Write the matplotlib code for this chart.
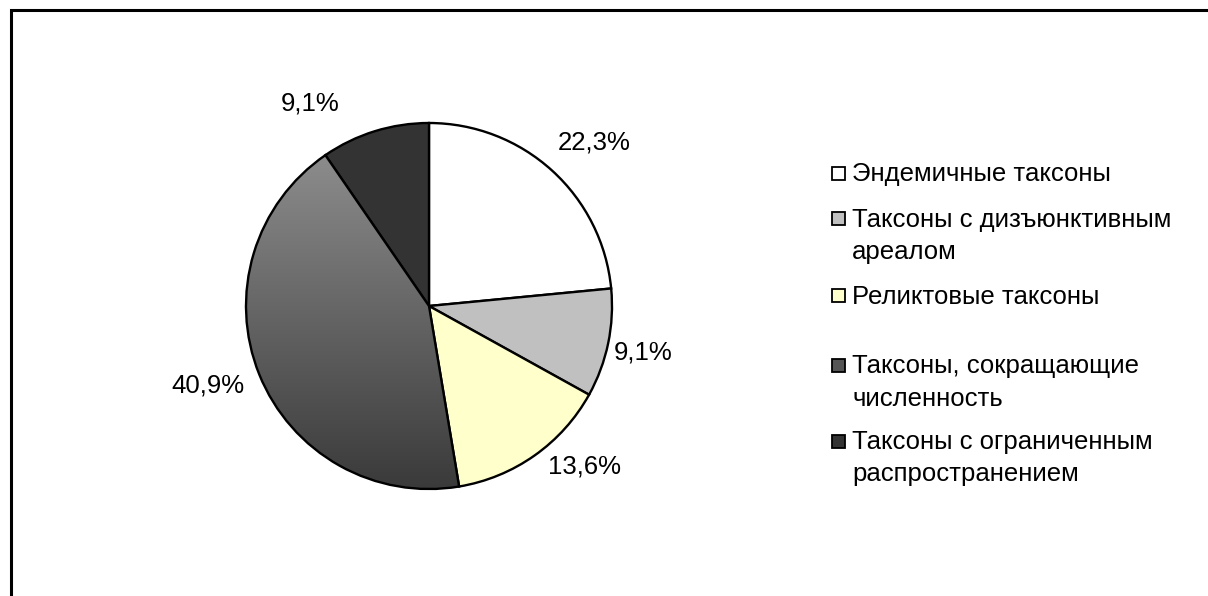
import numpy as np
import matplotlib.pyplot as plt
from matplotlib.patches import Rectangle
from matplotlib.colors import LinearSegmentedColormap

plt.rcParams['font.family'] = ['Liberation Sans', 'DejaVu Sans']

# доли групп таксонов, %
categories = ['Эндемичные таксоны',
              'Таксоны с дизъюнктивным\nареалом',
              'Реликтовые таксоны',
              'Таксоны, сокращающие\nчисленность',
              'Таксоны с ограниченным\nраспространением']
shares = [22.3, 9.1, 13.6, 40.9, 9.1]
colors = ['#ffffff', '#c0c0c0', '#ffffcc', '#6a6a6a', '#333333']

W, H = 1208, 596
FS = 18.5

fig = plt.figure(figsize=(W / 100, H / 100), dpi=100)
ax = fig.add_axes([0, 0, 1, 1])

# рамка области диаграммы (правый и нижний края за пределами рисунка)
ax.add_patch(Rectangle((11, -20), W, H - 10 + 20, fill=False, lw=2.2, ec='black', zorder=1))

cx, cy, r = 429, H - 306, 183
wedges, _ = ax.pie(shares, colors=colors, startangle=90, counterclock=False,
                   center=(cx, cy), radius=r, frame=True,
                   wedgeprops=dict(edgecolor='black', linewidth=1.7))
ax.set_xlim(0, W)
ax.set_ylim(0, H)
ax.set_aspect('equal')
ax.axis('off')

# вертикальный градиент для самого крупного сектора
big = wedges[3]
grad = LinearSegmentedColormap.from_list('g', ['#3a3a3a', '#8c8c8c'])
img = ax.imshow(np.linspace(0, 1, 256).reshape(-1, 1), cmap=grad, origin='lower',
                extent=(cx - r, cx + r, cy - r, cy + 0.82 * r), aspect='auto',
                zorder=big.get_zorder())
img.set_clip_path(big)
big.set_facecolor('none')
big.set_zorder(img.get_zorder() + 0.1)

# подписи процентов: смещение от центра круга (в долях радиуса)
label_off = [(0.90, 0.90), (1.17, -0.25), (0.85, -0.87), (-1.21, -0.43), (-0.65, 1.11)]
for v, (dx, dy) in zip(shares, label_off):
    ax.text(cx + dx * r, cy + dy * r - 1, f'{v:.1f}%'.replace('.', ','),
            ha='center', va='center', fontsize=FS)

# легенда
leg_y = [173, 218, 295, 365, 441]
for c, lab, y in zip(colors, categories, leg_y):
    yy = H - y
    fc = '#555555' if c == '#6a6a6a' else c
    ax.add_patch(Rectangle((832, yy - 6.5), 13, 13, fc=fc, ec='black', lw=1.3))
    for i, line in enumerate(lab.split('\n')):
        ax.text(852, yy - 1.5 - 32 * i, line, ha='left', va='center', fontsize=FS)

fig.savefig('out.png', dpi=100)
